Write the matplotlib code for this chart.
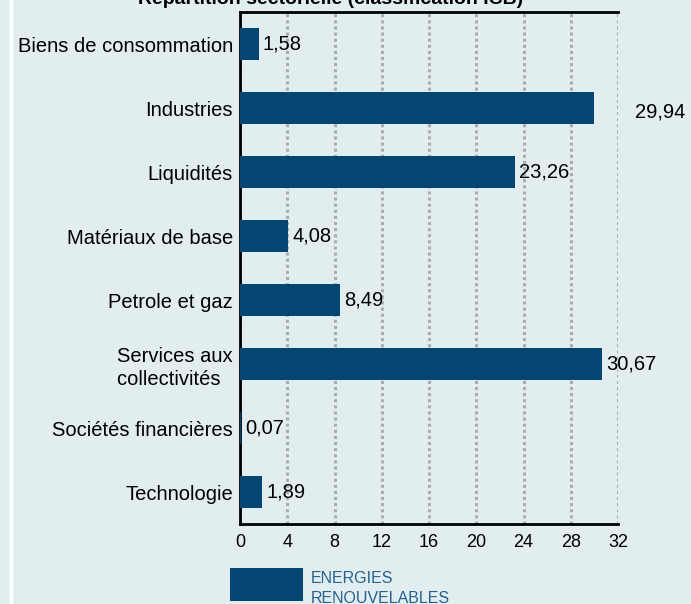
import matplotlib
matplotlib.use("Agg")
import matplotlib.pyplot as plt
from matplotlib.lines import Line2D
from matplotlib.patches import Rectangle

categories = ["Biens de consommation", "Industries", "Liquidités", "Matériaux de base",
              "Petrole et gaz", "Services aux\ncollectivités ", "Sociétés financières", "Technologie"]
values = [1.58, 29.94, 23.26, 4.08, 8.49, 30.67, 0.07, 1.89]
value_labels = ["1,58", "29,94", "23,26", "4,08", "8,49", "30,67", "0,07", "1,89"]
label_offsets_pt = [3, 30, 3, 3, 3, 3, 3, 3]
x_ticks = [0, 4, 8, 12, 16, 20, 24, 28, 32]
title = "Répartition sectorielle (classification ICB)"
legend_label = "ENERGIES\nRENOUVELABLES"

bg = "#E2EDF0"
bar_color = "#044673"

plt.rcParams['font.family'] = ['Liberation Sans', 'DejaVu Sans']

fig = plt.figure(figsize=(6.91, 6.04), dpi=100, facecolor=bg)
ax = fig.add_axes([240/691, 80/604, 378/691, 512/604])
ax.set_facecolor(bg)

y = list(range(len(categories)))
ax.barh(y, values, height=0.5, color=bar_color, zorder=3)
ax.set_ylim(len(categories) - 0.5, -0.5)
ax.set_xlim(0, 32)
ax.set_xticks(x_ticks)
ax.set_xticklabels([str(t) for t in x_ticks], fontsize=13)
ax.set_yticks(y)
ax.set_yticklabels(categories, fontsize=14.5, multialignment='left', linespacing=1.25)
ax.tick_params(axis='both', length=0)
ax.tick_params(axis='x', pad=7.5)
ax.tick_params(axis='y', pad=5)

ax.xaxis.grid(True, color="#A8ADAF", linestyle=(0, (1, 1)), linewidth=2.2, zorder=1)
ax.set_axisbelow(True)
for s in ['left', 'bottom', 'top']:
    ax.spines[s].set_color('black')
    ax.spines[s].set_linewidth(2)
ax.spines['right'].set_visible(False)

for yi, v, lab, off in zip(y, values, value_labels, label_offsets_pt):
    ax.annotate(lab, xy=(v, yi), xytext=(off, 0 if off < 10 else -3), textcoords='offset points',
                ha='left', va='center', fontsize=14.5, color='black', annotation_clip=False)

fig.text(0.478, 1 - 4/604, title, ha='center', va='baseline', fontsize=14, fontweight='bold')

# legend
fig.add_artist(Rectangle((230/691, 3/604), 73/691, 33/604, transform=fig.transFigure,
                         facecolor=bar_color, edgecolor='none'))
fig.text(311/691, 33/604, legend_label, ha='left', va='top', fontsize=11.5,
         color="#25628F", linespacing=1.45)

# left white border strip
fig.add_artist(Line2D([10.5/691, 10.5/691], [0, 1], transform=fig.transFigure,
                      color='white', linewidth=2.5))

fig.savefig("out.png", dpi=100, facecolor=bg)
